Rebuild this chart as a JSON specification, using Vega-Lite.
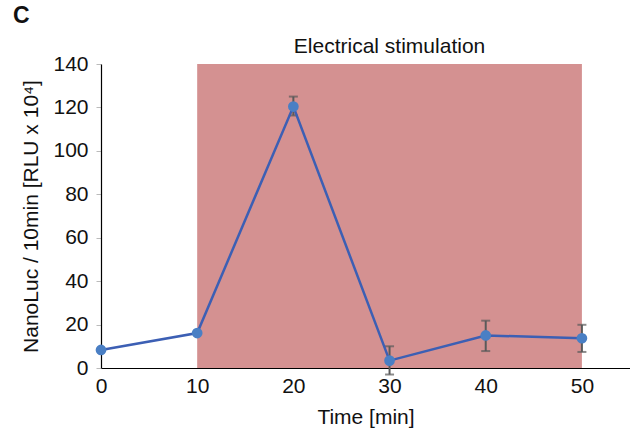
{
  "$schema": "https://vega.github.io/schema/vega-lite/v6.json",
  "autosize": "none",
  "width": 529,
  "height": 304,
  "padding": {"left": 101, "top": 64, "right": 0, "bottom": 71},
  "background": "white",
  "config": {
    "view": {"stroke": null},
    "font": "Liberation Sans"
  },
  "title": {
    "text": "C",
    "anchor": "start",
    "frame": "group",
    "dx": -88,
    "offset": 8,
    "fontSize": 23,
    "fontWeight": "bold",
    "font": "Liberation Sans",
    "color": "#111"
  },
  "datasets": {
    "pts": [
      {"t": 0, "v": 8.3, "lo": 8.3, "hi": 8.3},
      {"t": 10, "v": 16.1, "lo": 16.1, "hi": 16.1},
      {"t": 20, "v": 120.4, "lo": 116.3, "hi": 125.0},
      {"t": 30, "v": 3.4, "lo": -3.0, "hi": 10.0},
      {"t": 40, "v": 15.0, "lo": 7.8, "hi": 21.8},
      {"t": 50, "v": 13.7, "lo": 7.4, "hi": 19.9}
    ],
    "band": [
      {"start": 10, "end": 50, "lo": 0, "hi": 140, "label": "Electrical stimulation", "mid": 30}
    ]
  },
  "layer": [
    {
      "data": {"name": "band"},
      "mark": {"type": "rect", "color": "#d49191"},
      "encoding": {
        "x": {"field": "start", "type": "quantitative", "scale": {"domain": [0, 55], "nice": false},
          "axis": {"values": [0, 10, 20, 30, 40, 50], "title": "Time [min]", "ticks": false, "grid": false, "labelFlush": false,
            "domainColor": "#000", "domainWidth": 1.2, "labelFontSize": 21, "labelColor": "#111", "labelPadding": 7,
            "titleFontSize": 21, "titleFontWeight": "normal", "titleColor": "#111", "titlePadding": 10}},
        "x2": {"field": "end"},
        "y": {"field": "lo", "type": "quantitative", "scale": {"domain": [0, 140], "nice": false},
          "axis": {"values": [0, 20, 40, 60, 80, 100, 120, 140], "title": "NanoLuc / 10min [RLU x 10⁴]", "grid": false, "labelFlush": false,
            "tickColor": "#bbbbbb", "tickSize": 5, "domainColor": "#000", "domainWidth": 1.2,
            "labelFontSize": 21, "labelColor": "#111", "labelPadding": 8,
            "titleFontSize": 21, "titleFontWeight": "normal", "titleColor": "#111", "titlePadding": 11}},
        "y2": {"field": "hi"}
      }
    },
    {
      "data": {"name": "band"},
      "mark": {"type": "text", "fontSize": 21, "color": "#111", "baseline": "alphabetic", "dy": -11},
      "encoding": {
        "x": {"field": "mid", "type": "quantitative"},
        "y": {"field": "hi", "type": "quantitative"},
        "text": {"field": "label"}
      }
    },
    {
      "data": {"name": "pts"},
      "mark": {"type": "rule", "color": "#5a5a5a", "strokeWidth": 2},
      "encoding": {
        "x": {"field": "t", "type": "quantitative"},
        "y": {"field": "lo", "type": "quantitative"},
        "y2": {"field": "hi"}
      }
    },
    {
      "data": {"name": "pts"},
      "mark": {"type": "tick", "orient": "horizontal", "color": "#5a5a5a", "size": 9, "thickness": 2},
      "encoding": {
        "x": {"field": "t", "type": "quantitative"},
        "y": {"field": "lo", "type": "quantitative"}
      }
    },
    {
      "data": {"name": "pts"},
      "mark": {"type": "tick", "orient": "horizontal", "color": "#5a5a5a", "size": 9, "thickness": 2},
      "encoding": {
        "x": {"field": "t", "type": "quantitative"},
        "y": {"field": "hi", "type": "quantitative"}
      }
    },
    {
      "data": {"name": "pts"},
      "mark": {"type": "line", "color": "#3c5fb4", "strokeWidth": 2.5},
      "encoding": {
        "x": {"field": "t", "type": "quantitative"},
        "y": {"field": "v", "type": "quantitative"}
      }
    },
    {
      "data": {"name": "pts"},
      "mark": {"type": "point", "filled": true, "opacity": 1, "color": "#4a7fc4", "size": 115},
      "encoding": {
        "x": {"field": "t", "type": "quantitative"},
        "y": {"field": "v", "type": "quantitative"}
      }
    }
  ]
}
